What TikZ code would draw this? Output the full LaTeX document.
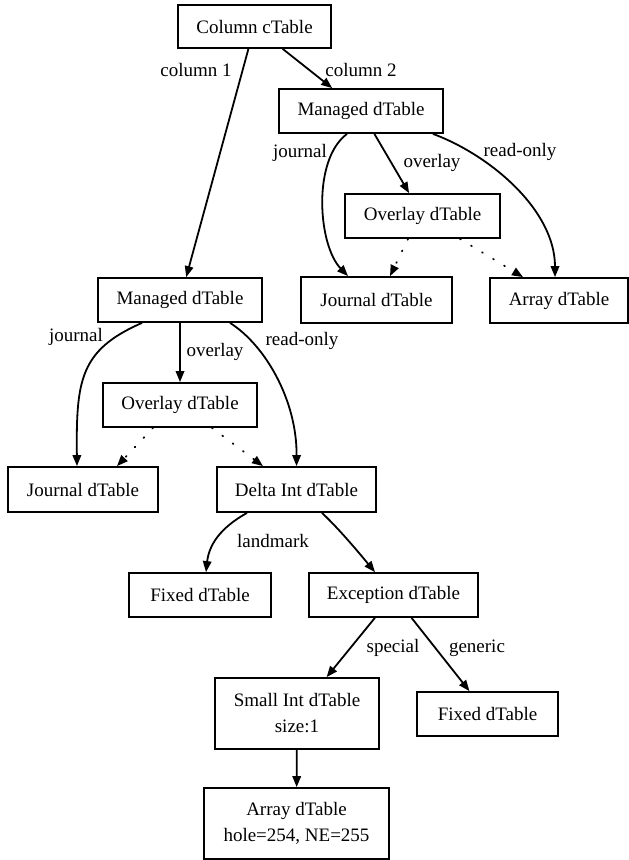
\documentclass[tikz,border=0pt]{standalone}
\usepackage{fontspec}
\setmainfont{Liberation Serif}
\usetikzlibrary{arrows.meta}
\begin{document}
\begin{tikzpicture}[x=1pt,y=-1pt,
  box/.style={draw,line width=1.8pt,rectangle,inner sep=0pt,font=\fontsize{19}{26}\selectfont,align=center},
  lbl/.style={inner sep=0pt,font=\fontsize{19}{26}\selectfont},
  arr/.style={line width=1.8pt,-{Triangle[length=11pt,width=8.5pt]}},
  dotarr/.style={arr,line cap=round,dash pattern=on 0.9pt off 12pt}]
\useasboundingbox (0,0) rectangle (629,860);
% nodes
\node[box,minimum width=153pt,minimum height=43pt] (col) at (254.5,26.5) {Column cTable};
\node[box,minimum width=164pt,minimum height=44pt] (mr) at (361,111) {Managed dTable};
\node[box,minimum width=155pt,minimum height=44pt] (or) at (422.5,216) {Overlay dTable};
\node[box,minimum width=151pt,minimum height=46pt] (jr) at (376.5,300) {Journal dTable};
\node[box,minimum width=138pt,minimum height=45pt] (ar) at (559,300.5) {Array dTable};
\node[box,minimum width=164pt,minimum height=44pt] (ml) at (180,300) {Managed dTable};
\node[box,minimum width=154pt,minimum height=44pt] (ol) at (180,405) {Overlay dTable};
\node[box,minimum width=150pt,minimum height=45pt] (jl) at (83,489.5) {Journal dTable};
\node[box,minimum width=159pt,minimum height=45pt] (dl) at (296.5,489.5) {Delta Int dTable};
\node[box,minimum width=142pt,minimum height=44pt] (fl) at (200,595) {Fixed dTable};
\node[box,minimum width=169pt,minimum height=44pt] (ex) at (393.5,595) {Exception dTable};
\node[box,minimum width=164pt,minimum height=71pt] (si) at (297,713.5) {Small Int dTable\\size:1};
\node[box,minimum width=141pt,minimum height=44pt] (fr) at (487.5,714) {Fixed dTable};
\node[box,minimum width=185pt,minimum height=71pt] (ab) at (296.5,823.5) {Array dTable\\hole=254, NE=255};
% edges
\draw[arr] (col) -- (ml);
\draw[arr] (col) -- (mr);
\draw[arr] ([xshift=-14pt]mr.south) .. controls (312,160) and (318,245) .. ([xshift=-28.5pt]jr.north);
\draw[arr] (mr) -- (or);
\draw[arr] ([xshift=72pt]mr.south) .. controls (490,155) and (555,210) .. ([xshift=-4pt]ar.north);
\draw[dotarr] ([xshift=-14.5pt]or.south) -- ([xshift=13.5pt]jr.north);
\draw[dotarr] ([xshift=37.5pt]or.south) -- ([xshift=-36pt]ar.north);
\draw[arr] ([xshift=-38pt]ml.south) .. controls (80,350) and (76,380) .. ([xshift=-6pt]jl.north);
\draw[arr] (ml) -- (ol);
\draw[arr] ([xshift=50pt]ml.south) .. controls (265,345) and (297,400) .. (dl.north);
\draw[dotarr] ([xshift=-27pt]ol.south) -- ([xshift=34pt]jl.north);
\draw[dotarr] ([xshift=32pt]ol.south) -- ([xshift=-33.5pt]dl.north);
\draw[arr] ([xshift=-49.5pt]dl.south) .. controls (220,528) and (209,545) .. ([xshift=6pt]fl.north);
\draw[arr] ([xshift=25.5pt]dl.south) .. controls (338,528) and (355,548) .. ([xshift=-18.5pt]ex.north);
\draw[arr] (ex) -- (si);
\draw[arr] (ex) -- (fr);
\draw[arr] (si) -- (ab);
% labels
\node[lbl] (l1) at (196,70) {column 1};
\node[lbl] (l2) at (361,70) {column 2};
\node[lbl] (l3) at (300,153) {journal};
\node[lbl] (l4) at (432,163) {overlay};
\node[lbl] (l5) at (520,152) {read-only};
\node[lbl] (l6) at (76,337) {journal};
\node[lbl] (l7) at (215,352) {overlay};
\node[lbl] (l8) at (302,341) {read-only};
\node[lbl] (l9) at (273,541) {landmark};
\node[lbl] (l10) at (393,648) {special};
\node[lbl] (l11) at (477,648) {generic};
\end{tikzpicture}
\end{document}
